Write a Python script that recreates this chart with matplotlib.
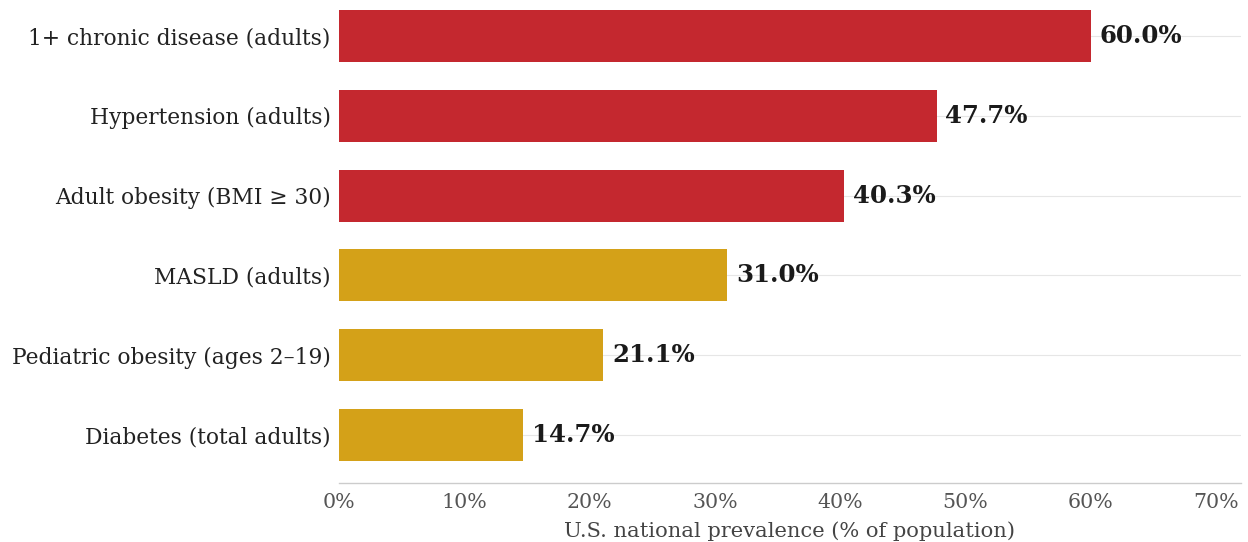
import matplotlib.pyplot as plt

categories = [
    "1+ chronic disease (adults)",
    "Hypertension (adults)",
    "Adult obesity (BMI \u2265 30)",
    "MASLD (adults)",
    "Pediatric obesity (ages 2\u201319)",
    "Diabetes (total adults)",
]
values = [60.0, 47.7, 40.3, 31.0, 21.1, 14.7]
groups = ["high", "high", "high", "mid", "mid", "mid"]

colors = {"high": "#C4282F", "mid": "#D4A118"}

plt.rcParams['font.family'] = ['DejaVu Serif']

fig = plt.figure(figsize=(12.48, 5.42), dpi=100)
ax = fig.add_axes([0.2716, 0.109, 0.7228, 0.891])

ypos = list(range(len(categories)))
ax.barh(ypos, values, height=0.65, color=[colors[g] for g in groups], zorder=3)

# value labels just past the end of each bar
for y, v in zip(ypos, values):
    ax.text(v + 0.7, y, f"{v:.1f}%", va="center", ha="left",
            fontsize=17.6, fontweight="bold", color="#1a1a1a", zorder=4)

ax.set_yticks(ypos)
ax.set_yticklabels(categories, fontsize=15.7, color="#222222")
ax.set_ylim(5.6, -0.45)
ax.set_xlim(0, 72)
ax.set_xticks(range(0, 71, 10))
ax.set_xticklabels([f"{t}%" for t in range(0, 71, 10)], fontsize=14.8, color="#555555")
ax.set_xlabel("U.S. national prevalence (% of population)", fontsize=15.1,
              color="#444444", labelpad=7)

ax.tick_params(length=0, pad=6)
ax.tick_params(axis="x", pad=7)
ax.grid(axis="y", color="#e6e6e6", linewidth=0.8, zorder=0)
for s in ["top", "right", "left"]:
    ax.spines[s].set_visible(False)
ax.spines["bottom"].set_color("#cccccc")
ax.spines["bottom"].set_linewidth(1.0)

fig.savefig("out.png", dpi=100)
